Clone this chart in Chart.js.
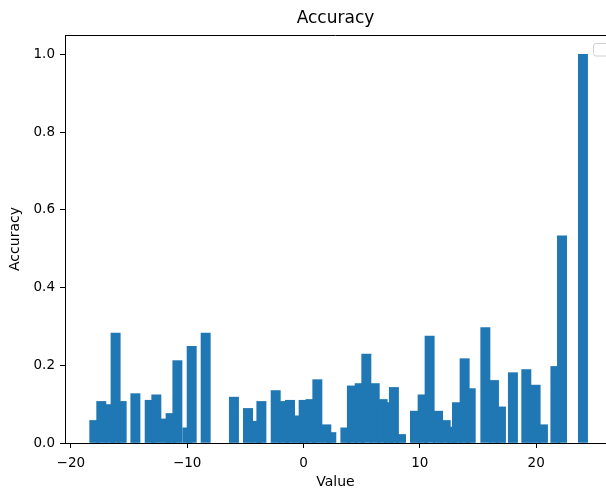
<!DOCTYPE html>
<html>
<head>
<meta charset="utf-8">
<script src="https://cdn.jsdelivr.net/npm/chart.js@4.4.0/dist/chart.umd.min.js"></script>
<style>
  html, body { margin: 0; padding: 0; background: #fff; }
</style>
</head>
<body>
<canvas id="accChart" width="606" height="494"></canvas>
<script>
// bar positions (value) and heights (accuracy), in drawing order
const binCenters = [
  -17.98, -17.38, -16.60, -15.63, -16.15, -14.45,
  -13.22, -12.65, -11.82, -11.42, -10.84, -9.98, -9.61,
  -8.41, -5.98, -4.77, -4.00, -3.62,
  -2.39, -1.68, -1.16, -0.42, 0.01, 0.61, 1.19, 2.39, 1.96,
  3.60, 4.16, 4.83, 5.40, 6.12, 6.80, 7.34, 8.38, 7.77,
  9.58, 10.24, 10.84, 11.56, 12.22, 12.76, 13.19, 14.37, 13.85,
  15.63, 16.37, 16.97, 18.00, 19.15, 19.95, 20.58,
  21.65, 22.22, 24.02
];
const accuracy = [
  0.058, 0.107, 0.099, 0.107, 0.283, 0.127,
  0.110, 0.124, 0.062, 0.076, 0.212, 0.039, 0.249,
  0.283, 0.118, 0.089, 0.056, 0.107,
  0.135, 0.107, 0.110, 0.070, 0.110, 0.112, 0.163, 0.027, 0.047,
  0.039, 0.147, 0.153, 0.229, 0.153, 0.112, 0.104, 0.022, 0.143,
  0.082, 0.124, 0.275, 0.082, 0.058, 0.041, 0.104, 0.140, 0.217,
  0.297, 0.161, 0.093, 0.181, 0.189, 0.149, 0.047,
  0.197, 0.533, 1.000
];
const xTicks = [-20, -10, 0, 10, 20];
const yTicks = [0, 0.2, 0.4, 0.6, 0.8, 1.0];
const BAR_WIDTH = 0.8;

const FONT = 'DejaVu Sans';

// bar width follows the x scale (0.8 data units, like matplotlib)
const barWidthPlugin = {
  id: 'barWidth',
  afterLayout(chart) {
    const x = chart.scales.x;
    chart.data.datasets[0].barThickness = x.getPixelForValue(BAR_WIDTH) - x.getPixelForValue(0);
  }
};

// top spine + empty legend frame in the corner
const framePlugin = {
  id: 'frame',
  afterDraw(chart) {
    const {ctx, chartArea} = chart;
    ctx.save();
    ctx.strokeStyle = '#000';
    ctx.lineWidth = 1;
    ctx.beginPath();
    ctx.moveTo(chartArea.left, chartArea.top + 0.5);
    ctx.lineTo(chartArea.right, chartArea.top + 0.5);
    ctx.stroke();

    ctx.strokeStyle = '#d0d0d0';
    ctx.beginPath();
    ctx.roundRect(593.5, 43.5, 20, 12.5, 2.5);
    ctx.stroke();
    ctx.restore();
  }
};

const ctx = document.getElementById('accChart').getContext('2d');
new Chart(ctx, {
  type: 'bar',
  data: {
    datasets: [{
      data: binCenters.map((v, i) => ({x: v, y: accuracy[i]})),
      backgroundColor: '#1f77b4',
      borderWidth: 0,
      grouped: false
    }]
  },
  options: {
    responsive: false,
    animation: false,
    devicePixelRatio: 1,
    layout: { padding: 0 },
    plugins: {
      legend: { display: false },
      tooltip: { enabled: false },
      title: {
        display: true,
        text: 'Accuracy',
        fullSize: false,
        color: '#000',
        font: { family: FONT, size: 17, weight: 'normal' },
        padding: { top: 8, bottom: 6.6 }
      }
    },
    scales: {
      x: {
        type: 'linear',
        min: -20.5,
        max: 26,
        offset: false,
        afterBuildTicks: s => { s.ticks = xTicks.map(v => ({value: v})); },
        afterFit: s => { s.height = 51; },
        grid: { offset: false, drawOnChartArea: false, drawTicks: true, tickLength: 5, tickColor: '#000', tickWidth: 1 },
        border: { display: true, color: '#000', width: 1 },
        ticks: {
          color: '#000',
          padding: 7,
          maxRotation: 0,
          font: { family: FONT, size: 13.5 },
          callback: v => v < 0 ? '\u2212' + (-v) : String(v)
        },
        title: {
          display: true,
          text: 'Value',
          color: '#000',
          font: { family: FONT, size: 14 },
          padding: { top: 0, bottom: 3.6 }
        }
      },
      y: {
        min: 0,
        max: 1.05,
        afterBuildTicks: s => { s.ticks = yTicks.map(v => ({value: v})); },
        afterFit: s => { s.width = 65; },
        grid: { offset: false, drawOnChartArea: false, drawTicks: true, tickLength: 5, tickColor: '#000', tickWidth: 1 },
        border: { display: true, color: '#000', width: 1 },
        ticks: {
          color: '#000',
          padding: 5,
          font: { family: FONT, size: 13.5 },
          callback: v => v.toFixed(1)
        },
        title: {
          display: true,
          text: 'Accuracy',
          color: '#000',
          font: { family: FONT, size: 14 },
          padding: { top: 6.6, bottom: 0 }
        }
      }
    }
  },
  plugins: [barWidthPlugin, framePlugin]
});
</script>
</body>
</html>
